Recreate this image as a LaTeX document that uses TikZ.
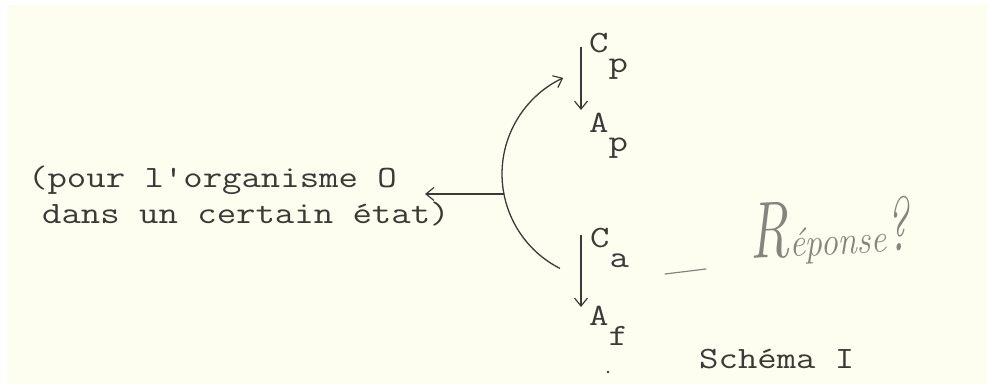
\documentclass[tikz,border=0pt]{standalone}
\usepackage{fontspec}
\newfontfamily\tw{lmmono12-regular}[Extension=.otf, FakeStretch=1.215]
\usetikzlibrary{arrows.meta}
\definecolor{paper}{HTML}{FEFEF0}
\definecolor{ink}{HTML}{3A3A36}
\definecolor{pencil}{HTML}{85857E}
\tikzset{
  tt/.style={font=\tw\fontsize{31}{36}\selectfont, text=ink, inner sep=0pt, anchor=base west},
  conn/.style={draw=ink, line width=1.3pt, -{Straight Barb[length=8pt,width=13pt,line width=1.2pt]}},
  hand/.style={font=\itshape, text=pencil, inner sep=0pt, anchor=base west},
}
\begin{document}
\begin{tikzpicture}[x=1pt,y=1pt]
\useasboundingbox (0,0) rectangle (987,-385);
\fill[white] (0,0) rectangle (987,-385);
\fill[paper] (7,-5) rectangle (987,-384);
% typed text
\node[tt] (l1) at (28,-187) {(pour l'organisme O};
\node[tt] (l2) at (42,-223) {dans un certain état)};
\node[tt] (cp) at (589,-53) {C\raisebox{-20pt}{p}};
\node[tt] (ap) at (589,-132) {A\raisebox{-19pt}{p}};
\node[tt] (ca) at (590,-247) {C\raisebox{-20pt}{a}};
\node[tt] (af) at (589,-325) {A\raisebox{-20pt}{f}};
\node[tt] (schema) at (699,-368) {Schéma I};
% vertical arrows
\coordinate (cpS) at (581,-47);
\coordinate (apN) at (581,-110);
\coordinate (caS) at (581,-235);
\coordinate (afN) at (581,-307);
\draw[conn] (cpS) -- (apN);
\draw[conn] (caS) -- (afN);
% arc
\coordinate (ctr) at (608,-174);
\coordinate (arcB) at (559.9,-268.4);
\coordinate (j) at (503.9,-194);
\coordinate (tipL) at (425,-194);
\draw[conn] (arcB) arc[start angle=243, end angle=115, radius=106];
\draw[conn] (j) -- (tipL);
% handwritten note
\coordinate (d1) at (665,-274);
\coordinate (d2) at (706,-269);
\draw[pencil, line width=1.2pt, line cap=round] (d1) -- (d2);
\node[hand, rotate=3] (rep) at (750,-259) {\scalebox{0.7}[1]{\fontsize{80}{80}\selectfont R}\scalebox{0.87}[1]{\fontsize{40}{40}\selectfont éponse}\scalebox{0.6}[1]{\fontsize{76}{76}\selectfont ?}};
% stray typed mark
\fill[ink] (608,-372) circle[radius=1.3];
\end{tikzpicture}
\end{document}
